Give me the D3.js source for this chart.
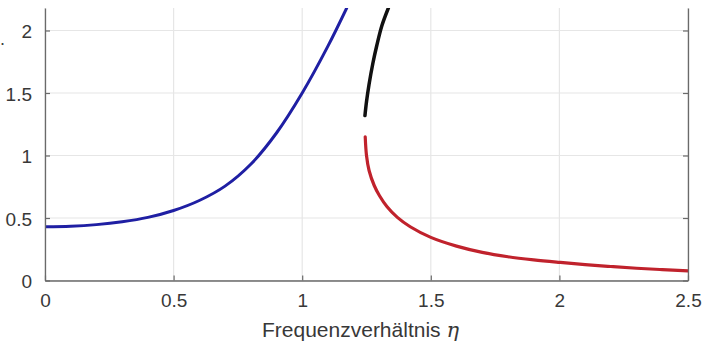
<!DOCTYPE html>
<html><head><meta charset="utf-8">
<script src="https://cdn.jsdelivr.net/npm/d3@7"></script>
<style>html,body{margin:0;padding:0;background:#fff;}svg{display:block;}</style>
</head><body>
<svg id="c" width="703" height="344"></svg>
<script>
// Data
const xTicks = [0, 0.5, 1, 1.5, 2, 2.5];
const yTicks = [0, 0.5, 1, 1.5, 2];
const xTickLabels = ["0", "0.5", "1", "1.5", "2", "2.5"];
const yTickLabels = ["0", "0.5", "1", "1.5", "2"];
const xLabel = "Frequenzverhältnis ";
const xLabelSym = "η";

const blueEta = [0, 0.1, 0.2, 0.3, 0.4, 0.5, 0.6, 0.7, 0.8, 0.9, 1.0, 1.1, 1.173];
const blueAmp = [0.43, 0.434, 0.447, 0.47, 0.505, 0.56, 0.64, 0.755, 0.93, 1.18, 1.5, 1.875, 2.18];

const blackEta = [1.244, 1.25, 1.26, 1.275, 1.29, 1.31, 1.335];
const blackAmp = [1.32, 1.43, 1.57, 1.74, 1.88, 2.04, 2.18];

const redEta = [1.245, 1.25, 1.26, 1.28, 1.3, 1.33, 1.37, 1.42, 1.5, 1.6, 1.7, 1.8, 1.9, 2.0, 2.1, 2.2, 2.3, 2.4, 2.5];
const redAmp = [1.15, 1.0, 0.88, 0.76, 0.68, 0.59, 0.505, 0.43, 0.345, 0.275, 0.225, 0.19, 0.165, 0.145, 0.127, 0.112, 0.098, 0.087, 0.077];

const m = {left: 45, right: 688, top: 8, bottom: 280.5};
const svg = d3.select("#c");
const x = d3.scaleLinear().domain([0, 2.5]).range([m.left, m.right]);
const y = d3.scaleLinear().domain([0, 2.18]).range([m.bottom, m.top]);

const font = "Liberation Sans, Arial, Helvetica, sans-serif";

// grid
const g = svg.append("g");
g.selectAll(".gx").data(xTicks).enter().append("line")
  .attr("x1", d => x(d)).attr("x2", d => x(d)).attr("y1", m.top).attr("y2", m.bottom)
  .attr("stroke", "#e6e6e6").attr("stroke-width", 1.2);
g.selectAll(".gy").data(yTicks).enter().append("line")
  .attr("x1", m.left).attr("x2", m.right).attr("y1", d => y(d)).attr("y2", d => y(d))
  .attr("stroke", "#e6e6e6").attr("stroke-width", 1.2);

// curves
svg.append("clipPath").attr("id", "clip").append("rect")
  .attr("x", m.left).attr("y", m.top).attr("width", m.right - m.left).attr("height", m.bottom - m.top);
const line = d3.line().x(d => x(d[0])).y(d => y(d[1])).curve(d3.curveCatmullRom.alpha(0.5));
const curves = [
  {eta: blueEta, amp: blueAmp, color: "#1f1fa3", w: 3},
  {eta: blackEta, amp: blackAmp, color: "#111111", w: 3.5},
  {eta: redEta, amp: redAmp, color: "#c0222c", w: 3.2}
];
const cg = svg.append("g").attr("clip-path", "url(#clip)");
curves.forEach(c => {
  cg.append("path").datum(c.eta.map((e, i) => [e, c.amp[i]]))
    .attr("d", line).attr("fill", "none").attr("stroke", c.color)
    .attr("stroke-width", c.w).attr("stroke-linecap", "round");
});

// axes (MATLAB style, ticks inward)
const axCol = "#6a6a6a";
const xAxis = svg.append("g").attr("transform", `translate(0,${m.bottom})`)
  .call(d3.axisBottom(x).tickValues(xTicks).tickFormat((d, i) => xTickLabels[i]).tickSize(-5).tickSizeOuter(0).tickPadding(13));
const yAxis = svg.append("g").attr("transform", `translate(${m.left},0)`)
  .call(d3.axisLeft(y).tickValues(yTicks).tickFormat((d, i) => yTickLabels[i]).tickSize(-5).tickSizeOuter(0).tickPadding(13));
const yAxisR = svg.append("g").attr("transform", `translate(${m.right},0)`)
  .call(d3.axisRight(y).tickValues(yTicks).tickFormat("").tickSize(-5).tickSizeOuter(0));
[xAxis, yAxis, yAxisR].forEach(a => {
  a.select(".domain").attr("stroke", axCol).attr("stroke-width", 1.3);
  a.selectAll(".tick line").attr("stroke", axCol).attr("stroke-width", 1.2);
  a.selectAll("text").attr("fill", "#383838").attr("font-family", font).attr("font-size", 19);
});
yAxis.selectAll("text").attr("dy", "0.38em");

// x label
const xl = svg.append("text").attr("x", (m.left + m.right) / 2 - 6).attr("y", 337)
  .attr("text-anchor", "middle").attr("font-family", font).attr("font-size", 21).attr("fill", "#383838");
xl.append("tspan").text(xLabel);
xl.append("tspan").attr("font-family", "DejaVu Serif, serif").attr("font-style", "italic").text(xLabelSym);

// fragment of the (cropped) y label
svg.append("text").attr("x", 0).attr("y", 45).attr("font-family", font).attr("font-size", 18).attr("fill", "#404040").text(".");
</script>
</body></html>
